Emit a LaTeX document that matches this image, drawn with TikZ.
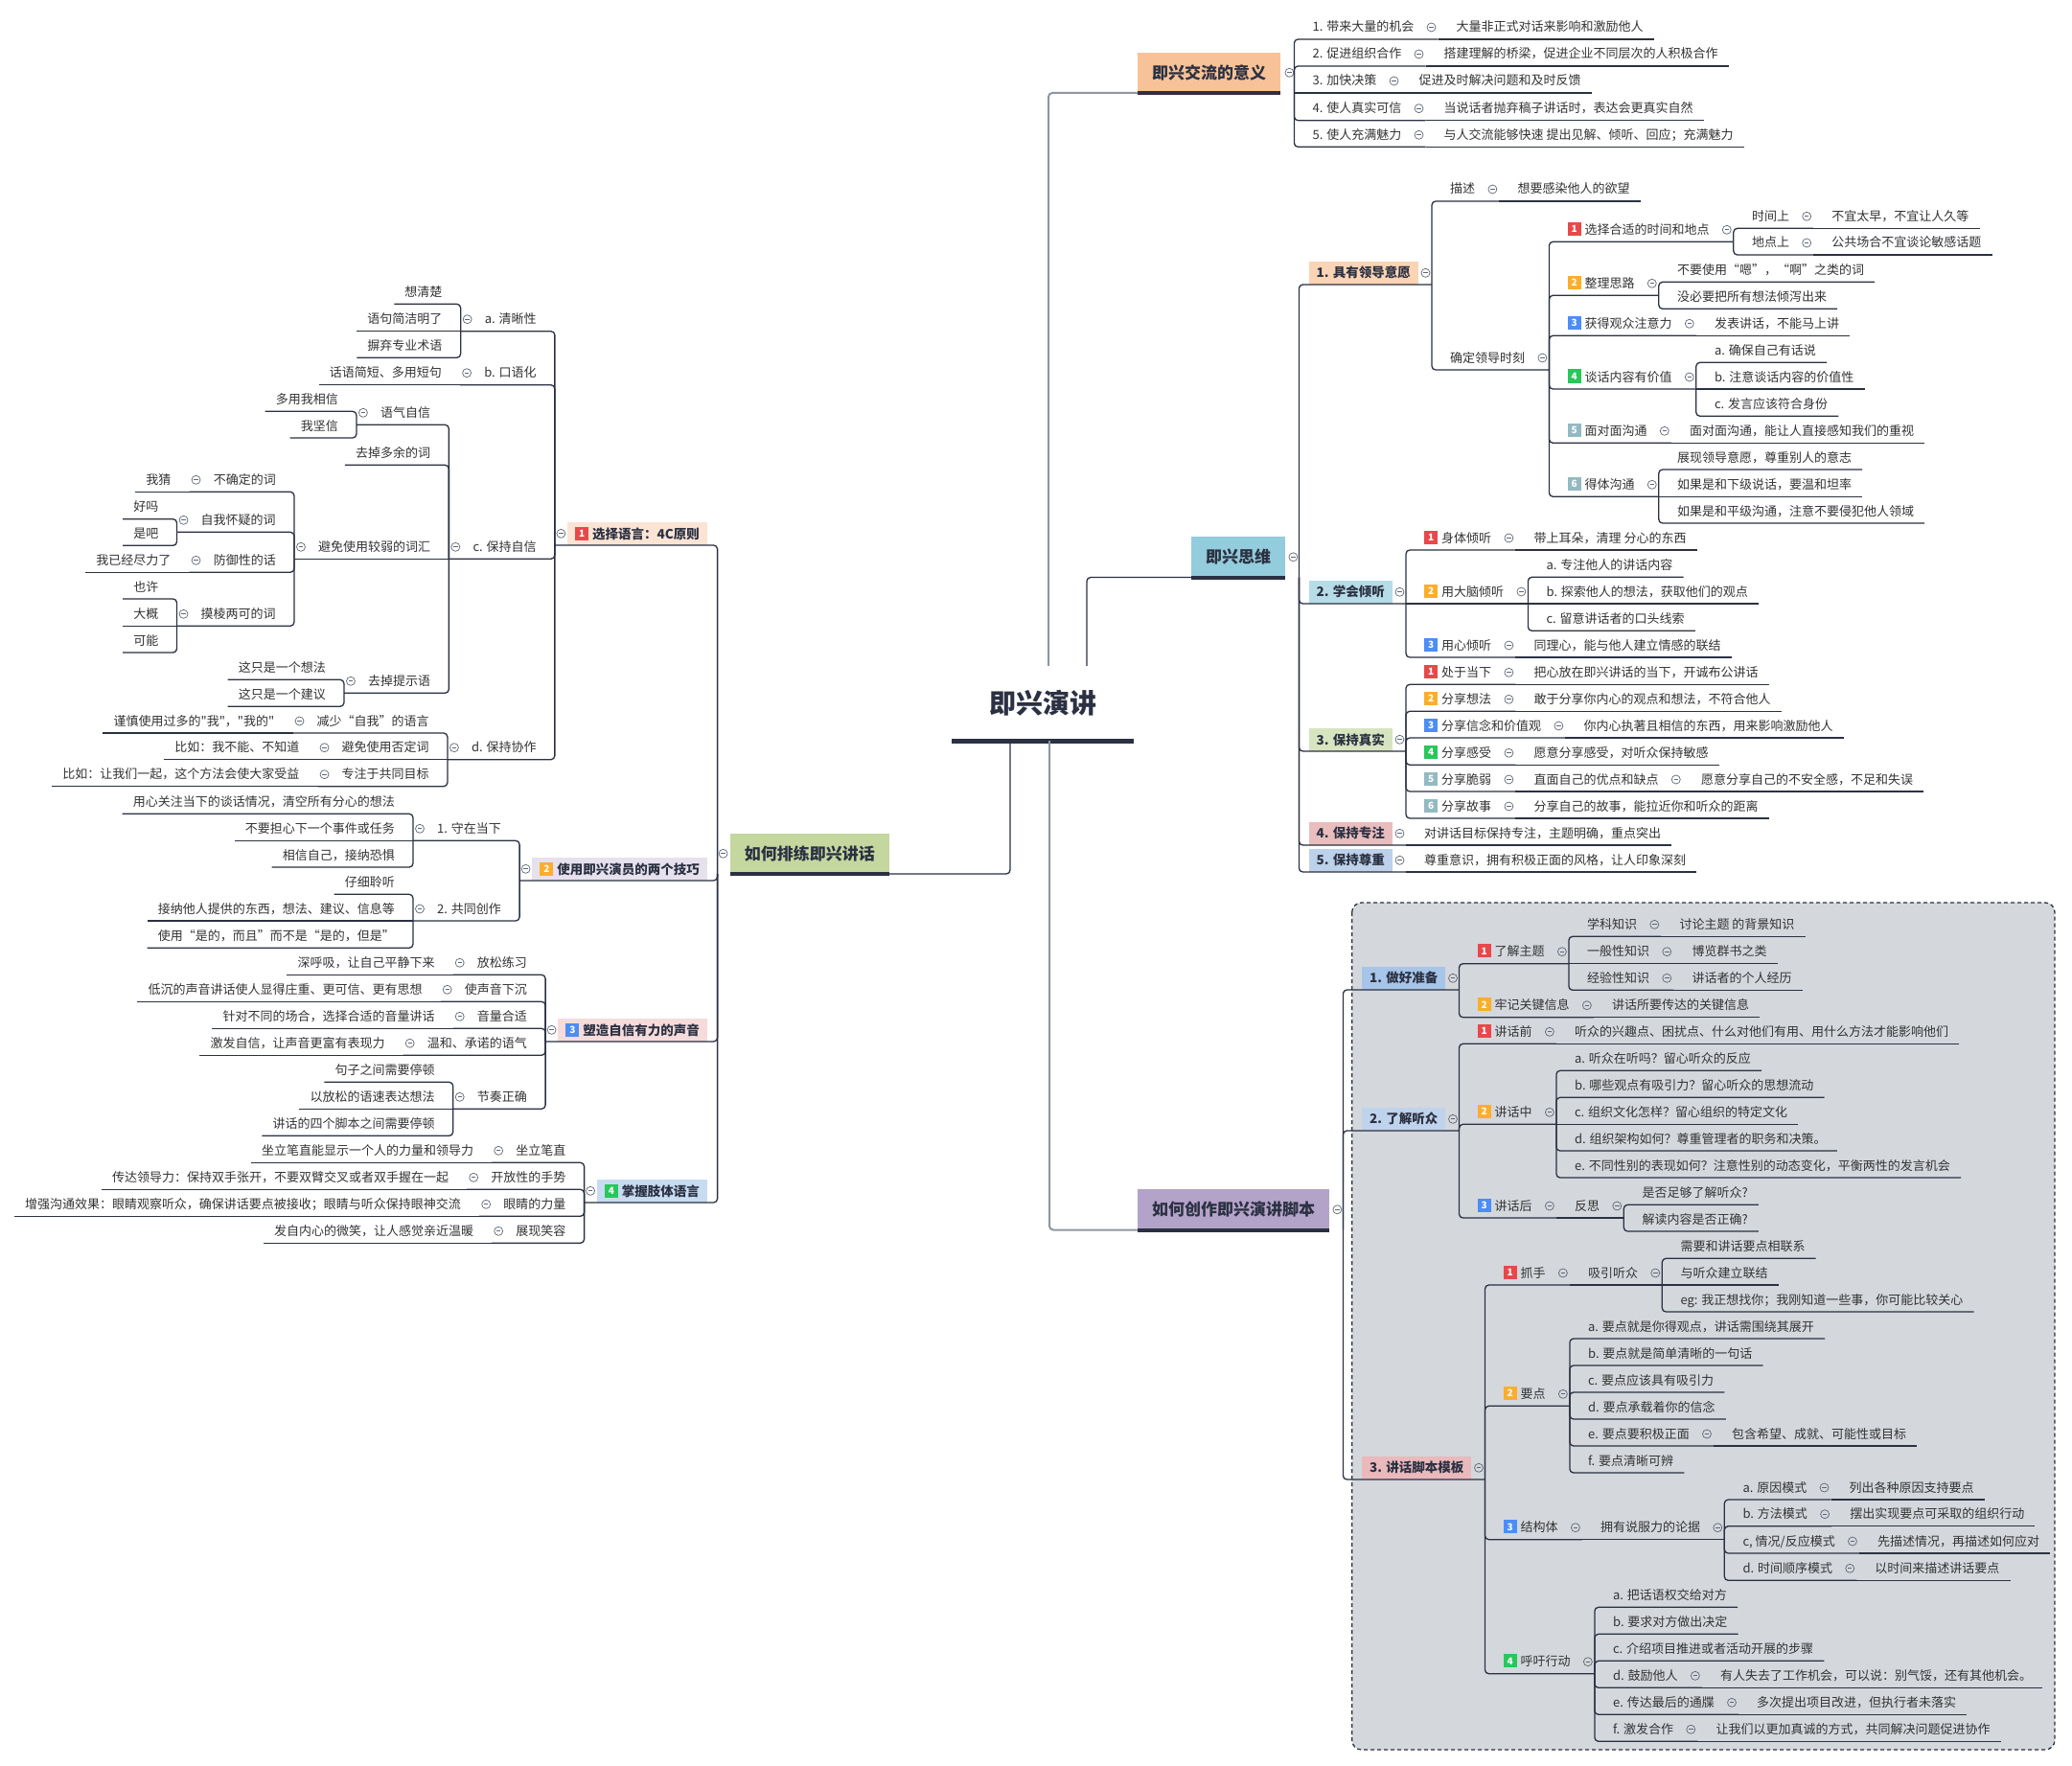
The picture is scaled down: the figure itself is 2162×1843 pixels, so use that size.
\documentclass[tikz,border=0pt]{standalone}
\usepackage{fontspec}
\setmainfont{Noto Sans CJK SC}
\newfontfamily\qf{Noto Sans CJK SC}
\usetikzlibrary{calc}
\definecolor{ln}{HTML}{2B3142}
\definecolor{lg}{HTML}{8F96A3}
\definecolor{txt}{HTML}{2B3142}
\definecolor{lt}{HTML}{333333}
\definecolor{mkc}{HTML}{5F6673}
\definecolor{bR}{HTML}{E9484B}
\definecolor{bO}{HTML}{FBAE2C}
\definecolor{bB}{HTML}{4C8DF6}
\definecolor{bG}{HTML}{27C75A}
\definecolor{bT}{HTML}{93BAC2}
\definecolor{cM1}{HTML}{F7C298}
\definecolor{cM2}{HTML}{93CCDC}
\definecolor{cM3}{HTML}{C4D79F}
\definecolor{cM4}{HTML}{B4A3C9}
\definecolor{cB1}{HTML}{FAD4B4}
\definecolor{cB2}{HTML}{B6DCE7}
\definecolor{cB3}{HTML}{D6E4C0}
\definecolor{cB4}{HTML}{E9BDBD}
\definecolor{cB5}{HTML}{BDD1EA}
\definecolor{cP1}{HTML}{A7C5E9}
\definecolor{cP2}{HTML}{C0D3EC}
\definecolor{cP3}{HTML}{E9B9BC}
\definecolor{cQ1}{HTML}{FBE4D4}
\definecolor{cQ2}{HTML}{E7E1EE}
\definecolor{cQ3}{HTML}{F6DBDB}
\definecolor{cQ4}{HTML}{C7DBF1}
\definecolor{zone}{HTML}{D4D7DC}

\newcommand\bdg[2]{{\setlength\fboxsep{0pt}\colorbox{#1}{\makebox[14pt]{\rule[-1.5pt]{0pt}{14pt}\raisebox{1.6pt}{\fontsize{10}{10}\selectfont\bfseries\color{white}#2}}}}\hspace{4pt}}
\newcommand\setuy[2]{\expandafter\def\csname uy@#1\endcsname{#2}}
\newcommand\getuy[1]{\csname uy@#1\endcsname}
\newcommand\cnx[3]{%
  \ifdim\getuy{#1}pt=#3pt\relax
    \draw[cnl] (#1j) -- (#2);
  \else
    \draw[cnl] (#1j) |- (#2);
  \fi}
% right-growing leaf / parent
\newcommand\xRL[4]{%
  \path let \p1=(#1j) in node[lf,anchor=base west] (#2) at (\x1+19pt,#3-8) {#4};
  \coordinate (#2e) at ([shift={(11pt,-8pt)}]#2.base east);
  \setuy{#2}{#3}\cnx{#1}{#2e}{#3}}
\newcommand\xRP[4]{%
  \path let \p1=(#1j) in node[lf,anchor=base west] (#2) at (\x1+19pt,#3-8) {#4};
  \coordinate (#2j) at ([shift={(25pt,-8pt)}]#2.base east);
  \node[mkr] (#2m) at ([shift={(18pt,4.5pt)}]#2.base east) {};
  \setuy{#2}{#3}\cnx{#1}{#2j}{#3}}
% left-growing leaf / parent
\newcommand\xLL[4]{%
  \path let \p1=(#1j) in node[lf,anchor=base east] (#2) at (\x1-19pt,#3-8) {#4};
  \coordinate (#2e) at ([shift={(-11pt,-8pt)}]#2.base west);
  \setuy{#2}{#3}\cnx{#1}{#2e}{#3}}
\newcommand\xLP[4]{%
  \path let \p1=(#1j) in node[lf,anchor=base east] (#2) at (\x1-19pt,#3-8) {#4};
  \coordinate (#2j) at ([shift={(-25pt,-8pt)}]#2.base west);
  \node[mkr] (#2m) at ([shift={(-18pt,4.5pt)}]#2.base west) {};
  \setuy{#2}{#3}\cnx{#1}{#2j}{#3}}
% second level boxes
\newcommand\boxR[6]{%
  \node[sbox, fill=#5, anchor=south west] (#1) at (#3,#4) {#6};
  \coordinate (#1j) at ([xshift=14pt]#1.south east); \setuy{#1}{#4}%
  \node[mkr] (#1m) at ([xshift=7.5pt]#1.east) {};
  \cnx{#2}{#1j}{#4}}
\newcommand\boxL[6]{%
  \node[sbox, fill=#5, anchor=south east] (#1) at (#3,#4) {#6};
  \coordinate (#1j) at ([xshift=-13pt]#1.south west); \setuy{#1}{#4}%
  \node[mkr] (#1m) at ([xshift=-6.5pt]#1.west) {};
  \cnx{#2}{#1j}{#4}}

\tikzset{
  lf/.style={inner sep=0pt, font=\fontsize{13}{15}\selectfont, text=lt},
  cnl/.style={draw=ln, line width=1.3pt, rounded corners=4pt},
  cgl/.style={draw=lg, line width=2pt, rounded corners=4pt},
  mbar/.style={draw=ln, line width=4pt},
  mkr/.style={circle, draw=mkc, line width=0.7pt, minimum size=9pt, inner sep=0pt,
    path picture={\draw[mkc, line width=0.7pt] ([xshift=2.3pt]path picture bounding box.west) -- ([xshift=-2.3pt]path picture bounding box.east);}},
  mbox/.style={inner xsep=15pt, inner ysep=0pt, minimum height=42pt, font=\fontsize{17}{20}\selectfont\bfseries, text=txt},
  sbox/.style={inner xsep=8pt, inner ysep=0pt, minimum height=24pt, font=\fontsize{13.5}{16}\selectfont\bfseries, text=txt},
  ctr/.style={inner sep=0pt, minimum width=190pt, minimum height=78pt, font=\fontsize{28}{32}\selectfont\bfseries, text=txt},
}

\begin{document}
\begin{tikzpicture}[x=1pt,y=-1pt]
\useasboundingbox (0,0) rectangle (2162,1843);
\fill[white] (0,0) rectangle (2162,1843);
\filldraw[fill=zone, draw=ln, line width=1.3pt, dash pattern=on 4pt off 3pt, rounded corners=10pt] (1410.7,942) rectangle (2144,1826);

% centre
\node[ctr] (C) at (1088,734) {即兴演讲};
\draw[draw=ln, line width=5pt] (C.south west) -- (C.south east);

% main boxes
\node[mbox, fill=cM1, anchor=south west] (M1) at (1187,97) {即兴交流的意义};
\node[mbox, fill=cM2, anchor=south west] (M2) at (1243,602.5) {即兴思维};
\node[mbox, fill=cM3, anchor=south east] (M3) at (928,912) {如何排练即兴讲话};
\node[mbox, fill=cM4, anchor=south west] (M4) at (1187,1283.5) {如何创作即兴演讲脚本};
\foreach \m in {M1,M2,M3,M4} \draw[mbar] (\m.south west) -- (\m.south east);

\draw[cgl] ([xshift=6pt]C.north) |- (M1.south west);
\draw[cnl] ([xshift=46pt]C.north) |- (M2.south west);
\draw[cnl] ([xshift=-34pt]C.south) |- (M3.south east);
\draw[cgl] ([xshift=7pt]C.south) |- (M4.south west);

\coordinate (M1j) at ([xshift=14pt]M1.south east); \setuy{M1}{97}
\node[mkr] (M1m) at ([xshift=9pt]M1.east) {};
\coordinate (M2j) at ([xshift=14pt]M2.south east); \setuy{M2}{602.5}
\node[mkr] (M2m) at ([xshift=8pt]M2.east) {};
\coordinate (M3j) at ([xshift=-13pt]M3.south west); \setuy{M3}{912}
\node[mkr] (M3m) at ([xshift=-7pt]M3.west) {};
\coordinate (M4j) at ([xshift=14pt]M4.south east); \setuy{M4}{1283.5}
\node[mkr] (M4m) at ([xshift=8pt]M4.east) {};

% ---------- 即兴交流的意义
\xRP{M1}{a1}{41}{1. 带来大量的机会} \xRL{a1}{a1x}{41}{大量非正式对话来影响和激励他人}
\xRP{M1}{a2}{69}{2. 促进组织合作} \xRL{a2}{a2x}{69}{搭建理解的桥梁，促进企业不同层次的人积极合作}
\xRP{M1}{a3}{97}{3. 加快决策} \xRL{a3}{a3x}{97}{促进及时解决问题和及时反馈}
\xRP{M1}{a4}{125.7}{4. 使人真实可信} \xRL{a4}{a4x}{125.7}{当说话者抛弃稿子讲话时，表达会更真实自然}
\xRP{M1}{a5}{153.3}{5. 使人充满魅力} \xRL{a5}{a5x}{153.3}{与人交流能够快速 提出见解、倾听、回应；充满魅力}

% ---------- 即兴思维
\boxR{B1}{M2}{1365.5}{297}{cB1}{1. 具有领导意愿}
\boxR{B2}{M2}{1365.5}{630}{cB2}{2. 学会倾听}
\boxR{B3}{M2}{1365.5}{784}{cB3}{3. 保持真实}
\boxR{B4}{M2}{1365.5}{882}{cB4}{4. 保持专注}
\boxR{B5}{M2}{1365.5}{910}{cB5}{5. 保持尊重}

\xRP{B1}{b1a}{210}{描述} \xRL{b1a}{b1ax}{210}{想要感染他人的欲望}
\xRP{B1}{b1b}{386}{确定领导时刻}
 \xRP{b1b}{c1}{252.3}{\bdg{bR}{1}选择合适的时间和地点}
   \xRP{c1}{c1a}{238.3}{时间上} \xRL{c1a}{c1ax}{238.3}{不宜太早，不宜让人久等}
   \xRP{c1}{c1b}{266}{地点上} \xRL{c1b}{c1bx}{266}{公共场合不宜谈论敏感话题}
 \xRP{b1b}{c2}{308.3}{\bdg{bO}{2}整理思路}
   \xRL{c2}{c2a}{294.3}{不要使用“嗯”，“啊”之类的词}
   \xRL{c2}{c2b}{322.3}{没必要把所有想法倾泻出来}
 \xRP{b1b}{c3}{350.3}{\bdg{bB}{3}获得观众注意力} \xRL{c3}{c3x}{350.3}{发表讲话，不能马上讲}
 \xRP{b1b}{c4}{406}{\bdg{bG}{4}谈话内容有价值}
   \xRL{c4}{c4a}{378.3}{a. 确保自己有话说}
   \xRL{c4}{c4b}{406}{b. 注意谈话内容的价值性}
   \xRL{c4}{c4c}{434.3}{c. 发言应该符合身份}
 \xRP{b1b}{c5}{462.3}{\bdg{bT}{5}面对面沟通} \xRL{c5}{c5x}{462.3}{面对面沟通，能让人直接感知我们的重视}
 \xRP{b1b}{c6}{518.3}{\bdg{bT}{6}得体沟通}
   \xRL{c6}{c6a}{490}{展现领导意愿，尊重别人的意志}
   \xRL{c6}{c6b}{518.3}{如果是和下级说话，要温和坦率}
   \xRL{c6}{c6c}{546}{如果是和平级沟通，注意不要侵犯他人领域}

\xRP{B2}{d1}{574}{\bdg{bR}{1}身体倾听} \xRL{d1}{d1x}{574}{带上耳朵，清理 分心的东西}
\xRP{B2}{d2}{630}{\bdg{bO}{2}用大脑倾听}
  \xRL{d2}{d2a}{602.3}{a. 专注他人的讲话内容}
  \xRL{d2}{d2b}{630}{b. 探索他人的想法，获取他们的观点}
  \xRL{d2}{d2c}{658.3}{c. 留意讲话者的口头线索}
\xRP{B2}{d3}{686}{\bdg{bB}{3}用心倾听} \xRL{d3}{d3x}{686}{同理心，能与他人建立情感的联结}

\xRP{B3}{e1}{714.3}{\bdg{bR}{1}处于当下} \xRL{e1}{e1x}{714.3}{把心放在即兴讲话的当下，开诚布公讲话}
\xRP{B3}{e2}{742.3}{\bdg{bO}{2}分享想法} \xRL{e2}{e2x}{742.3}{敢于分享你内心的观点和想法，不符合他人}
\xRP{B3}{e3}{770}{\bdg{bB}{3}分享信念和价值观} \xRL{e3}{e3x}{770}{你内心执著且相信的东西，用来影响激励他人}
\xRP{B3}{e4}{798.3}{\bdg{bG}{4}分享感受} \xRL{e4}{e4x}{798.3}{愿意分享感受，对听众保持敏感}
\xRP{B3}{e5}{826}{\bdg{bT}{5}分享脆弱} \xRP{e5}{e5x}{826}{直面自己的优点和缺点} \xRL{e5x}{e5y}{826}{愿意分享自己的不安全感，不足和失误}
\xRP{B3}{e6}{854}{\bdg{bT}{6}分享故事} \xRL{e6}{e6x}{854}{分享自己的故事，能拉近你和听众的距离}

\xRL{B4}{f1}{882}{对讲话目标保持专注，主题明确，重点突出}
\xRL{B5}{g1}{910}{尊重意识，拥有积极正面的风格，让人印象深刻}

% ---------- 如何创作即兴演讲脚本
\boxR{P1}{M4}{1421}{1033}{cP1}{1. 做好准备}
\boxR{P2}{M4}{1421}{1180}{cP2}{2. 了解听众}
\boxR{P3}{M4}{1421}{1544}{cP3}{3. 讲话脚本模板}

\xRP{P1}{h1}{1005.7}{\bdg{bR}{1}了解主题}
  \xRP{h1}{h1a}{977.3}{学科知识} \xRL{h1a}{h1ax}{977.3}{讨论主题 的背景知识}
  \xRP{h1}{h1b}{1005.7}{一般性知识} \xRL{h1b}{h1bx}{1005.7}{博览群书之类}
  \xRP{h1}{h1c}{1033.3}{经验性知识} \xRL{h1c}{h1cx}{1033.3}{讲话者的个人经历}
\xRP{P1}{h2}{1061.7}{\bdg{bO}{2}牢记关键信息} \xRL{h2}{h2x}{1061.7}{讲话所要传达的关键信息}

\xRP{P2}{i1}{1089.3}{\bdg{bR}{1}讲话前} \xRL{i1}{i1x}{1089.3}{听众的兴趣点、困扰点、什么对他们有用、用什么方法才能影响他们}
\xRP{P2}{i2}{1173.3}{\bdg{bO}{2}讲话中}
  \xRL{i2}{i2a}{1117.3}{a. 听众在听吗？留心听众的反应}
  \xRL{i2}{i2b}{1145.3}{b. 哪些观点有吸引力？留心听众的思想流动}
  \xRL{i2}{i2c}{1173.3}{c. 组织文化怎样？留心组织的特定文化}
  \xRL{i2}{i2d}{1201}{d. 组织架构如何？尊重管理者的职务和决策。}
  \xRL{i2}{i2e}{1229}{e. 不同性别的表现如何？注意性别的动态变化，平衡两性的发言机会}
\xRP{P2}{i3}{1271}{\bdg{bB}{3}讲话后} \xRP{i3}{i3x}{1271}{反思}
  \xRL{i3x}{i3a}{1257.3}{是否足够了解听众?}
  \xRL{i3x}{i3b}{1285}{解读内容是否正确?}

\xRP{P3}{k1}{1341}{\bdg{bR}{1}抓手} \xRP{k1}{k1x}{1341}{吸引听众}
  \xRL{k1x}{k1a}{1313.3}{需要和讲话要点相联系}
  \xRL{k1x}{k1b}{1341}{与听众建立联结}
  \xRL{k1x}{k1c}{1369}{eg: 我正想找你；我刚知道一些事，你可能比较关心}
\xRP{P3}{k2}{1467.3}{\bdg{bO}{2}要点}
  \xRL{k2}{k2a}{1397}{a. 要点就是你得观点，讲话需围绕其展开}
  \xRL{k2}{k2b}{1425}{b. 要点就是简单清晰的一句话}
  \xRL{k2}{k2c}{1453}{c. 要点应该具有吸引力}
  \xRL{k2}{k2d}{1481}{d. 要点承载着你的信念}
  \xRP{k2}{k2e}{1509}{e. 要点要积极正面} \xRL{k2e}{k2ex}{1509}{包含希望、成就、可能性或目标}
  \xRL{k2}{k2f}{1537}{f. 要点清晰可辨}
\xRP{P3}{k3}{1606.7}{\bdg{bB}{3}结构体} \xRP{k3}{k3x}{1606.7}{拥有说服力的论据}
  \xRP{k3x}{k3a}{1565}{a. 原因模式} \xRL{k3a}{k3ax}{1565}{列出各种原因支持要点}
  \xRP{k3x}{k3b}{1592.7}{b. 方法模式} \xRL{k3b}{k3bx}{1592.7}{摆出实现要点可采取的组织行动}
  \xRP{k3x}{k3c}{1621}{c, 情况/反应模式} \xRL{k3c}{k3cx}{1621}{先描述情况，再描述如何应对}
  \xRP{k3x}{k3d}{1649.3}{d. 时间顺序模式} \xRL{k3d}{k3dx}{1649.3}{以时间来描述讲话要点}
\xRP{P3}{k4}{1746.7}{\bdg{bG}{4}呼吁行动}
  \xRL{k4}{k4a}{1677.3}{a. 把话语权交给对方}
  \xRL{k4}{k4b}{1705.3}{b. 要求对方做出决定}
  \xRL{k4}{k4c}{1733.3}{c. 介绍项目推进或者活动开展的步骤}
  \xRP{k4}{k4d}{1761.3}{d. 鼓励他人} \xRL{k4d}{k4dx}{1761.3}{有人失去了工作机会，可以说：别气馁，还有其他机会。}
  \xRP{k4}{k4e}{1789.3}{e. 传达最后的通牒} \xRL{k4e}{k4ex}{1789.3}{多次提出项目改进，但执行者未落实}
  \xRP{k4}{k4f}{1817.3}{f. 激发合作} \xRL{k4f}{k4fx}{1817.3}{让我们以更加真诚的方式，共同解决问题促进协作}

% ---------- 如何排练即兴讲话
\boxL{Q1}{M3}{738}{569}{cQ1}{\bdg{bR}{1}选择语言：4C原则}
\boxL{Q2}{M3}{738}{919}{cQ2}{\bdg{bO}{2}使用即兴演员的两个技巧}
\boxL{Q3}{M3}{738}{1087}{cQ3}{\bdg{bB}{3}塑造自信有力的声音}
\boxL{Q4}{M3}{738}{1255}{cQ4}{\bdg{bG}{4}掌握肢体语言}

\xLP{Q1}{l1}{345.7}{a. 清晰性}
  \xLL{l1}{l1a}{317.3}{想清楚}
  \xLL{l1}{l1b}{345.7}{语句简洁明了}
  \xLL{l1}{l1c}{373.3}{摒弃专业术语}
\xLP{Q1}{l2}{401.7}{b. 口语化} \xLL{l2}{l2x}{401.7}{话语简短、多用短句}
\xLP{Q1}{l3}{583.3}{c. 保持自信}
  \xLP{l3}{l3a}{443.3}{语气自信}
    \xLL{l3a}{l3a1}{429.3}{多用我相信}
    \xLL{l3a}{l3a2}{457}{我坚信}
  \xLL{l3}{l3b}{485.3}{去掉多余的词}
  \xLP{l3}{l3c}{583.3}{避免使用较弱的词汇}
    \xLP{l3c}{m1}{513.3}{不确定的词} \xLL{m1}{m1x}{513.3}{我猜}
    \xLP{l3c}{m2}{555.3}{自我怀疑的词}
      \xLL{m2}{m2a}{541.7}{好吗}
      \xLL{m2}{m2b}{569.3}{是吧}
    \xLP{l3c}{m3}{597.3}{防御性的话} \xLL{m3}{m3x}{597.3}{我已经尽力了}
    \xLP{l3c}{m4}{653.3}{摸棱两可的词}
      \xLL{m4}{m4a}{625}{也许}
      \xLL{m4}{m4b}{653.3}{大概}
      \xLL{m4}{m4c}{681}{可能}
  \xLP{l3}{l3d}{723.3}{去掉提示语}
    \xLL{l3d}{l3d1}{709.3}{这只是一个想法}
    \xLL{l3d}{l3d2}{737.3}{这只是一个建议}
\xLP{Q1}{l4}{792.7}{d. 保持协作}
  \xLP{l4}{l4a}{765}{减少“自我”的语言} \xLL{l4a}{l4ax}{765}{谨慎使用过多的{\qf"}我{\qf"}，{\qf"}我的{\qf"}}
  \xLP{l4}{l4b}{792.7}{避免使用否定词} \xLL{l4b}{l4bx}{792.7}{比如：我不能、不知道}
  \xLP{l4}{l4c}{820.7}{专注于共同目标} \xLL{l4c}{l4cx}{820.7}{比如：让我们一起，这个方法会使大家受益}

\xLP{Q2}{n1}{877.3}{1. 守在当下}
  \xLL{n1}{n1a}{849.3}{用心关注当下的谈话情况，清空所有分心的想法}
  \xLL{n1}{n1b}{877.3}{不要担心下一个事件或任务}
  \xLL{n1}{n1c}{905}{相信自己，接纳恐惧}
\xLP{Q2}{n2}{961}{2. 共同创作}
  \xLL{n2}{n2a}{933.3}{仔细聆听}
  \xLL{n2}{n2b}{961}{接纳他人提供的东西，想法、建议、信息等}
  \xLL{n2}{n2c}{989.3}{使用“是的，而且”而不是“是的，但是”}

\xLP{Q3}{o1}{1017.3}{放松练习} \xLL{o1}{o1x}{1017.3}{深呼吸，让自己平静下来}
\xLP{Q3}{o2}{1045.3}{使声音下沉} \xLL{o2}{o2x}{1045.3}{低沉的声音讲话使人显得庄重、更可信、更有思想}
\xLP{Q3}{o3}{1073.3}{音量合适} \xLL{o3}{o3x}{1073.3}{针对不同的场合，选择合适的音量讲话}
\xLP{Q3}{o4}{1101.3}{温和、承诺的语气} \xLL{o4}{o4x}{1101.3}{激发自信，让声音更富有表现力}
\xLP{Q3}{o5}{1157.3}{节奏正确}
  \xLL{o5}{o5a}{1129.3}{句子之间需要停顿}
  \xLL{o5}{o5b}{1157.3}{以放松的语速表达想法}
  \xLL{o5}{o5c}{1185.3}{讲话的四个脚本之间需要停顿}

\xLP{Q4}{p1}{1213.3}{坐立笔直} \xLL{p1}{p1x}{1213.3}{坐立笔直能显示一个人的力量和领导力}
\xLP{Q4}{p2}{1241.3}{开放性的手势} \xLL{p2}{p2x}{1241.3}{传达领导力：保持双手张开，不要双臂交叉或者双手握在一起}
\xLP{Q4}{p3}{1269.3}{眼睛的力量} \xLL{p3}{p3x}{1269.3}{增强沟通效果：眼睛观察听众，确保讲话要点被接收；眼睛与听众保持眼神交流}
\xLP{Q4}{p4}{1297.3}{展现笑容} \xLL{p4}{p4x}{1297.3}{发自内心的微笑，让人感觉亲近温暖}
\end{tikzpicture}
\end{document}
